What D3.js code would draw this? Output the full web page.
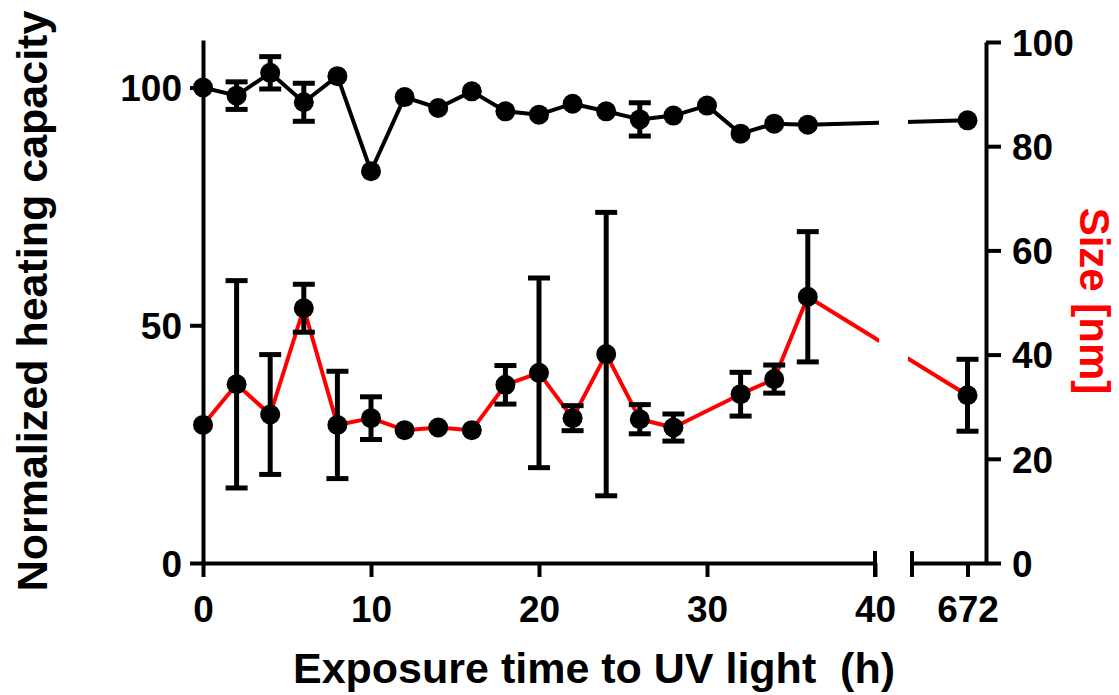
<!DOCTYPE html>
<html>
<head>
<meta charset="utf-8">
<script src="https://cdn.jsdelivr.net/npm/d3@7/dist/d3.min.js"></script>
<style>
	body { margin: 0; background: #fff; }
	svg { display: block; }
	text { font-family: "Liberation Sans", Arial, Helvetica, sans-serif; font-weight: bold; }
</style>
</head>
<body>
<svg id="chart" width="1119" height="695"></svg>
<script>
// Heating capacity (left axis), measured every 2 h plus one point at 672 h
var heatHours = [0, 2, 4, 6, 8, 10, 12, 14, 16, 18, 20, 22, 24, 26, 28, 30, 32, 34, 36, 672];
var heatValues = [100, 98.3, 103.1, 96.9, 102.4, 82.4, 98.0, 95.7, 99.2, 95.0, 94.3, 96.6, 95.0, 93.3, 94.1, 96.2, 90.3, 92.4, 92.2, 93.1];
var heatErrors = [0, 2.9, 3.4, 4.0, 0, 0, 0, 0, 0, 0, 0, 0, 0, 3.5, 0, 0, 0, 0, 0, 0];

// Particle size (right axis), no value at 30 h
var sizeHours = [0, 2, 4, 6, 8, 10, 12, 14, 16, 18, 20, 22, 24, 26, 28, 32, 34, 36, 672];
var sizeValues = [26.5, 34.3, 28.5, 48.9, 26.5, 27.8, 25.5, 26.0, 25.5, 34.2, 36.5, 27.8, 40.1, 27.6, 26.0, 32.4, 35.3, 51.1, 32.2];
var sizeErrors = [0, 19.9, 11.5, 4.6, 10.3, 4.1, 0, 0, 0, 3.7, 18.2, 2.4, 27.2, 2.8, 2.6, 4.2, 2.7, 12.5, 6.9];

var xTicksMain = [0, 10, 20, 30, 40];
var xTicksLate = [672];
var leftTicks = [0, 50, 100];
var rightTicks = [0, 20, 40, 60, 80, 100];

var svg = d3.select("#chart");

var x1 = d3.scaleLinear().domain([0, 40]).range([203, 875]);
var x2 = d3.scaleLinear().domain([660, 676]).range([912, 986]);
var yL = d3.scaleLinear().domain([0, 110]).range([563, 40]);
var yR = d3.scaleLinear().domain([0, 100]).range([563, 42]);

function xPos(h) {
	return h <= 40 ? x1(h) : x2(h);
}

var axisW = 4;
var tickFont = "37px";

function styleAxis(g) {
	g.selectAll("path, line").attr("stroke", "#000").attr("stroke-width", axisW);
	g.selectAll("text").attr("fill", "#000").style("font-size", tickFont);
	g.attr("font-family", null).attr("font-size", null);
}

// Axes
svg.append("g").attr("transform", "translate(203,0)")
	.call(d3.axisLeft(yL).tickValues(leftTicks).tickSize(13).tickSizeOuter(0).tickPadding(8))
	.call(styleAxis)
	.selectAll("text").attr("dy", "0.36em");

svg.append("g").attr("transform", "translate(986,0)")
	.call(d3.axisRight(yR).tickValues(rightTicks).tickSize(15).tickSizeOuter(0).tickPadding(11))
	.call(styleAxis)
	.selectAll("text").attr("dy", "0.36em");

svg.append("g").attr("transform", "translate(0,563)")
	.call(d3.axisBottom(x1).tickValues(xTicksMain).tickSize(14).tickSizeOuter(0).tickPadding(19))
	.call(styleAxis);

svg.append("g").attr("transform", "translate(0,563)")
	.call(d3.axisBottom(x2).tickValues(xTicksLate).tickSize(14).tickSizeOuter(0).tickPadding(19))
	.call(styleAxis);

// Break marks at both ends of the gap
svg.append("g").selectAll("line")
	.data([x1.range()[1], x2.range()[0]])
	.join("line")
	.attr("x1", function(d) { return d; }).attr("x2", function(d) { return d; })
	.attr("y1", 551).attr("y2", 577)
	.attr("stroke", "#000").attr("stroke-width", axisW);

// Lines are cut where the x axis is broken
var clip = svg.append("defs").append("clipPath").attr("id", "gapclip");
clip.append("rect").attr("x", 0).attr("y", 0).attr("width", 879).attr("height", 695);
clip.append("rect").attr("x", 908).attr("y", 0).attr("width", 211).attr("height", 695);

function drawSeries(hours, values, errors, y, lineColor) {
	var g = svg.append("g");
	var pts = hours.map(function(h, i) { return {h: h, v: values[i], e: errors[i]}; });

	var line = d3.line()
		.x(function(d) { return xPos(d.h); })
		.y(function(d) { return y(d.v); });

	g.append("path").datum(pts)
		.attr("d", line)
		.attr("fill", "none")
		.attr("stroke", lineColor)
		.attr("stroke-width", 4)
		.attr("stroke-linejoin", "round")
		.attr("clip-path", "url(#gapclip)");

	var bars = g.selectAll("g.err").data(pts.filter(function(d) { return d.e > 0; }))
		.join("g").attr("class", "err");
	bars.append("line")
		.attr("x1", function(d) { return xPos(d.h); })
		.attr("x2", function(d) { return xPos(d.h); })
		.attr("y1", function(d) { return y(d.v + d.e); })
		.attr("y2", function(d) { return y(d.v - d.e); })
		.attr("stroke", "#000").attr("stroke-width", 5);
	[1, -1].forEach(function(s) {
		bars.append("line")
			.attr("x1", function(d) { return xPos(d.h) - 11; })
			.attr("x2", function(d) { return xPos(d.h) + 11; })
			.attr("y1", function(d) { return y(d.v + s * d.e); })
			.attr("y2", function(d) { return y(d.v + s * d.e); })
			.attr("stroke", "#000").attr("stroke-width", 5);
	});

	g.selectAll("circle").data(pts)
		.join("circle")
		.attr("cx", function(d) { return xPos(d.h); })
		.attr("cy", function(d) { return y(d.v); })
		.attr("r", 10)
		.attr("fill", "#000");
}

drawSeries(sizeHours, sizeValues, sizeErrors, yR, "#ff0000");
drawSeries(heatHours, heatValues, heatErrors, yL, "#000");

// Titles
svg.append("text")
	.attr("transform", "translate(47,301) rotate(-90)")
	.attr("text-anchor", "middle")
	.style("font-size", "43px")
	.attr("fill", "#000")
	.text("Normalized heating capacity");

svg.append("text")
	.attr("transform", "translate(1080,301) rotate(90)")
	.attr("text-anchor", "middle")
	.style("font-size", "42px")
	.attr("fill", "#ff0000")
	.text("Size [nm]");

svg.append("text")
	.attr("x", 594).attr("y", 683)
	.attr("text-anchor", "middle")
	.style("font-size", "43px")
	.style("white-space", "pre")
	.attr("fill", "#000")
	.text("Exposure time to UV light  (h)");
</script>
</body>
</html>
